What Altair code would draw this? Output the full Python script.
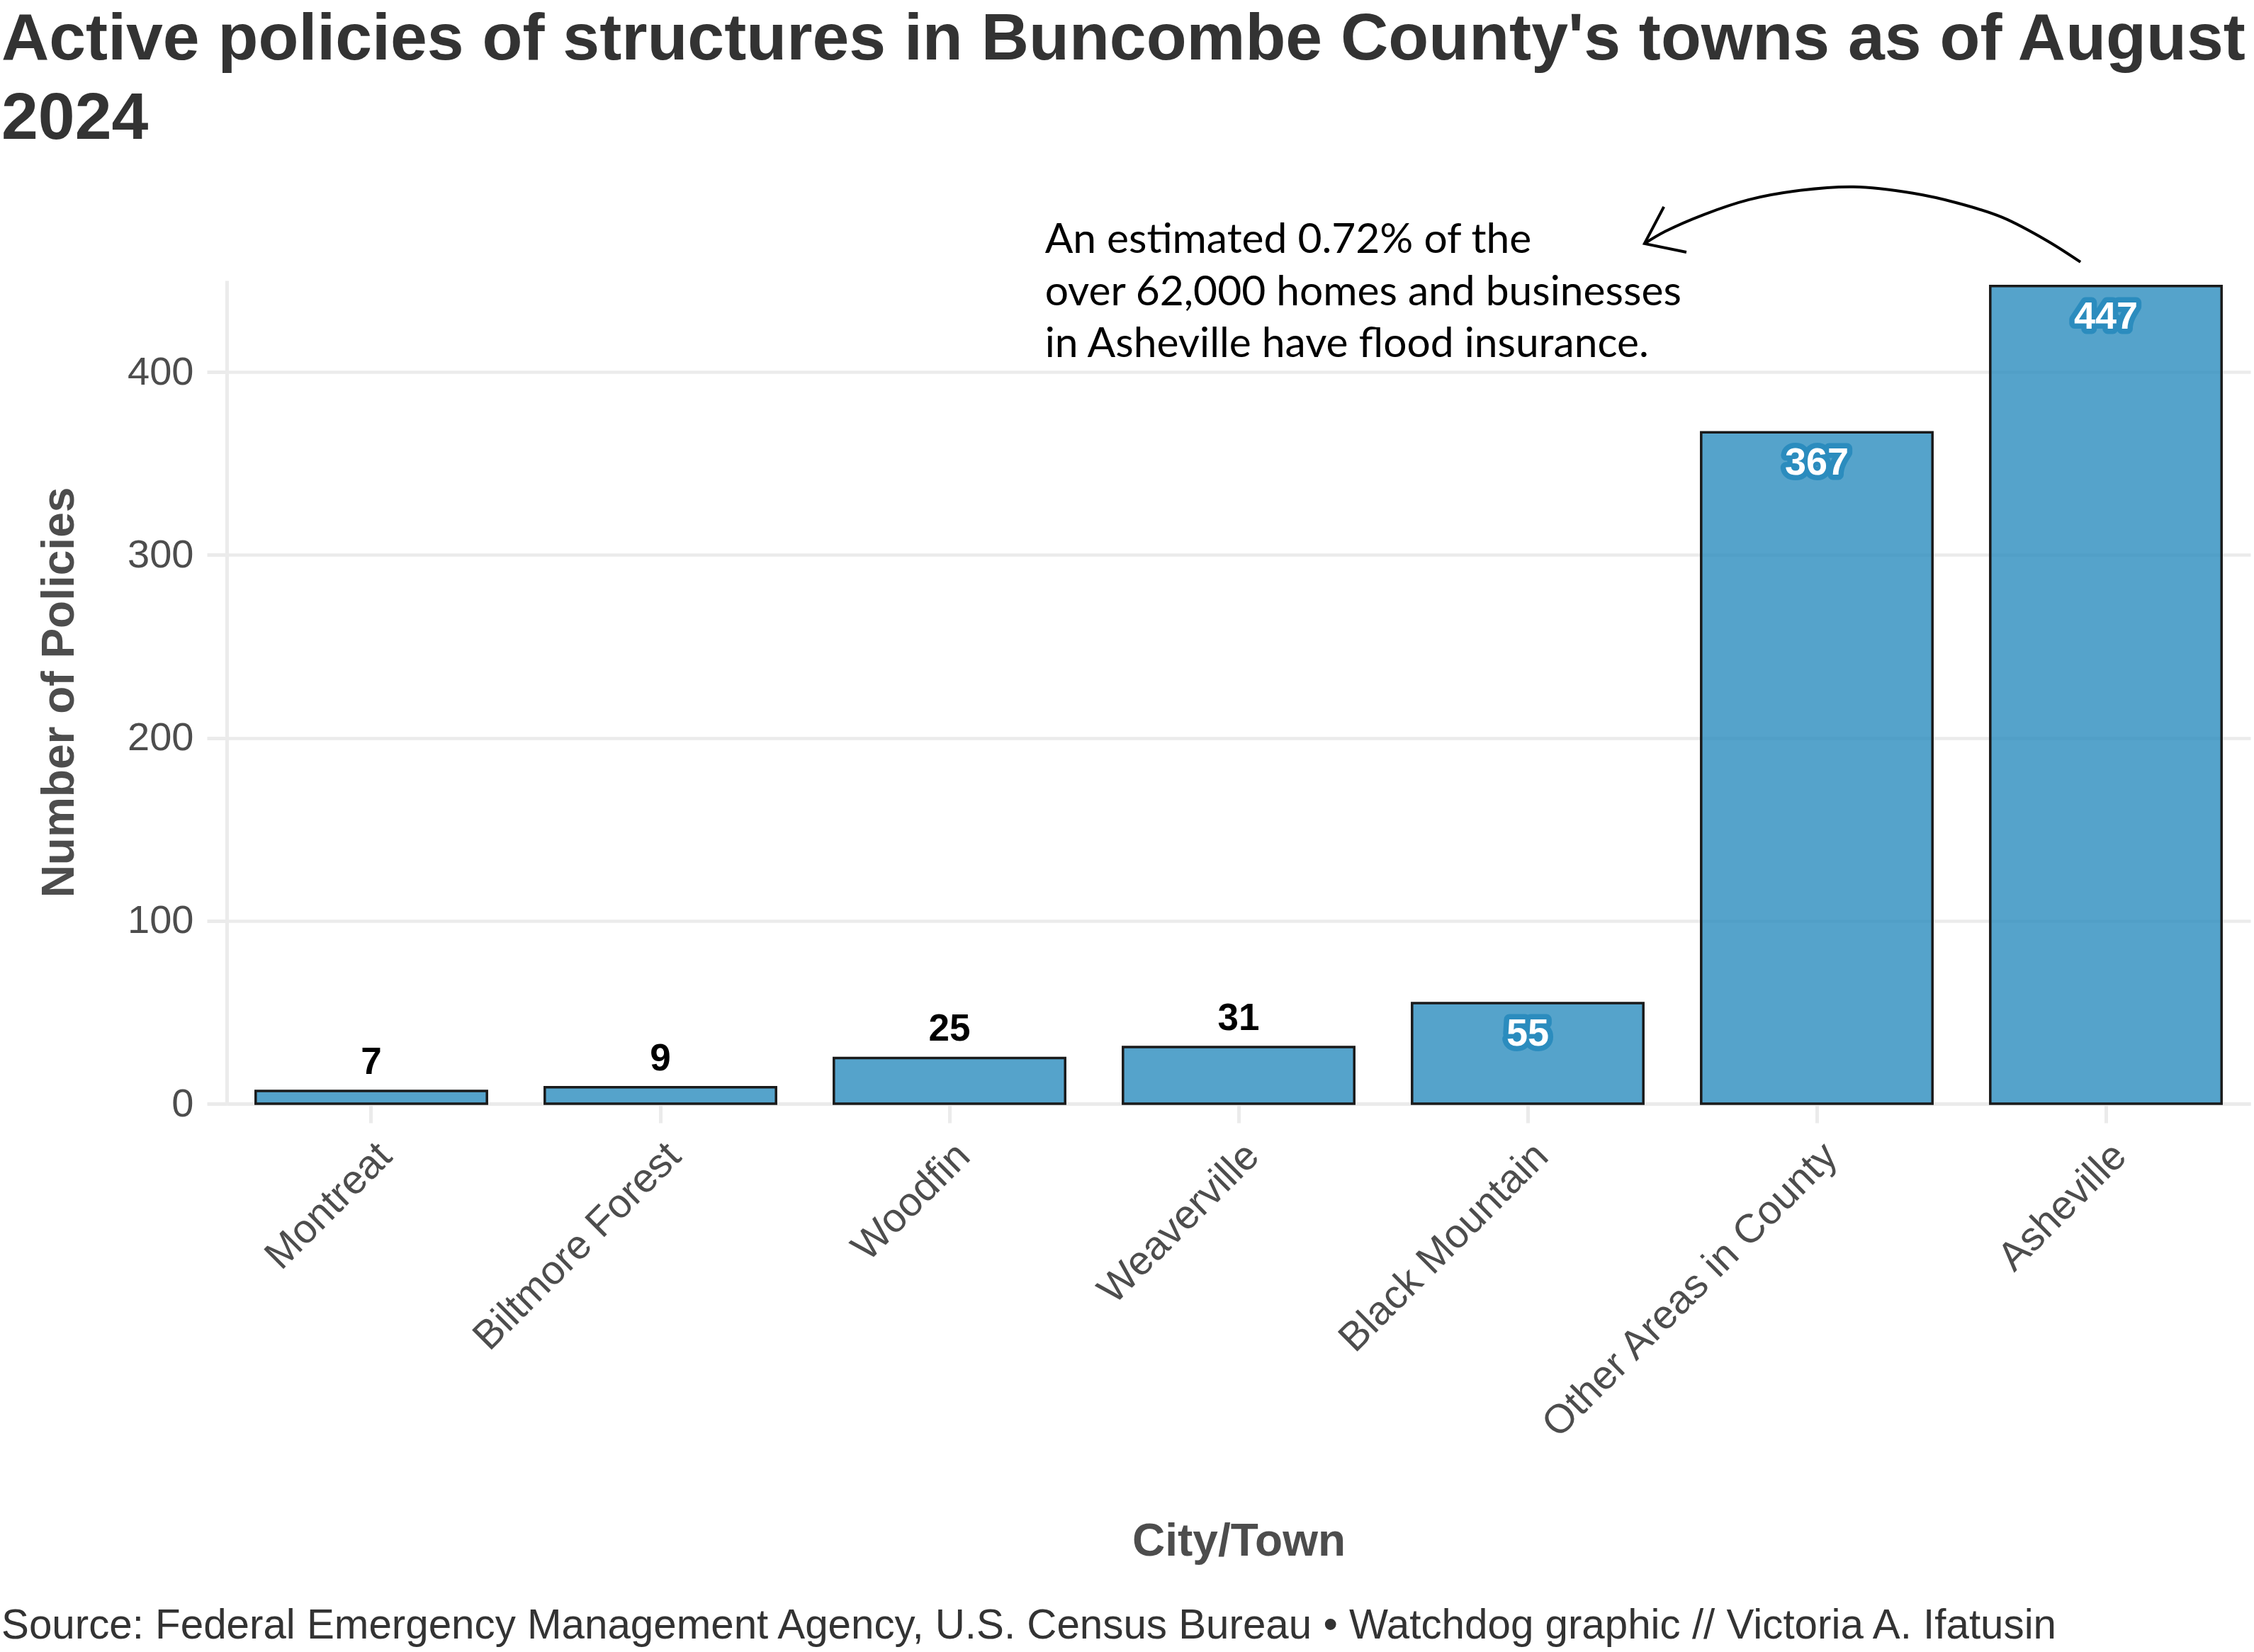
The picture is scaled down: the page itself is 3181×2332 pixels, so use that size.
import altair as alt
import pandas as pd

# ---------------- data ----------------
towns = ["Montreat", "Biltmore Forest", "Woodfin", "Weaverville",
         "Black Mountain", "Other Areas in County", "Asheville"]
policies = [7, 9, 25, 31, 55, 367, 447]
y_ticks = [0, 100, 200, 300, 400]

title_lines = ["Active policies of structures in Buncombe County's towns as of August", "2024"]
note_lines = ["An estimated 0.72% of the",
              "over 62,000 homes and businesses",
              "in Asheville have flood insurance."]
source_text = ("Source: Federal Emergency Management Agency, U.S. Census Bureau "
               "\u2022 Watchdog graphic // Victoria A. Ifatusin")

# annotation anchors: x in category-index units (1 = first bar), y in policies
note_x = [3.33, 3.33, 3.33]
note_y = [465.0, 436.5, 408.0]
curve_x = [6.912, 6.797, 6.642, 6.488, 6.333, 6.127, 5.919, 5.765, 5.610, 5.475, 5.404]
curve_y = [460.1, 471.7, 484.5, 492.3, 497.7, 501.2, 498.8, 494.2, 486.1, 476.8, 470.2]
head_x = [5.471, 5.404, 5.549]
head_y = [490.3, 470.2, 465.5]

# ---------------- tables ----------------
df = pd.DataFrame({"town": towns, "policies": policies})
note_df = pd.DataFrame({"x": note_x, "y": note_y, "t": note_lines})
curve_df = pd.DataFrame({"x": curve_x, "y": curve_y, "seq": list(range(len(curve_x)))})
head_df = pd.DataFrame({"x": head_x, "y": head_y, "seq": list(range(len(head_x)))})
src_df = pd.DataFrame({"t": [source_text]})

FONT = "Liberation Sans"
GRID = "#ebebeb"
W, H = 2856, 1162

yscale = alt.Scale(domain=[0, 450], nice=False, zero=True)
xq = alt.Scale(domain=[0.5, 7.5], nice=False, zero=False)

x_enc = alt.X(
    "town:N", sort=towns,
    scale=alt.Scale(paddingInner=0.2, paddingOuter=0.1),
    axis=alt.Axis(
        title="City/Town", titleFont=FONT, titleFontSize=64, titleFontWeight="bold",
        titleColor="#4d4d4d", titleX=W / 2, titleY=637, titleBaseline="alphabetic",
        titleAlign="center",
        labelAngle=-45, labelAlign="right", labelBaseline="top", labelPadding=18,
        labelFont=FONT, labelFontSize=57, labelColor="#4d4d4d", labelLimit=0,
        labelOverlap=False, labelFlush=False,
        ticks=True, tickSize=27, tickColor=GRID, tickWidth=5,
        domain=True, domainColor=GRID, domainWidth=5, grid=False,
    ),
)
y_enc = alt.Y(
    "policies:Q", scale=yscale,
    axis=alt.Axis(
        title="Number of Policies", titleFont=FONT, titleFontSize=64, titleFontWeight="bold",
        titleColor="#4d4d4d", titleAngle=-90, titleX=-217, titleY=H / 2,
        titleBaseline="alphabetic", titleAlign="center",
        values=y_ticks, labelFont=FONT, labelFontSize=56, labelColor="#4d4d4d",
        labelPadding=19, ticks=True, tickSize=28, tickColor=GRID, tickWidth=5,
        domain=True, domainColor=GRID, domainWidth=5,
        grid=True, gridColor=GRID, gridWidth=4.5,
    ),
)

base = alt.Chart(df).encode(x=x_enc, y=y_enc)

bars = base.mark_bar(fill="#2b8cbe", fillOpacity=0.8, stroke="#1a1a1a", strokeWidth=3.5)

out_labels = base.transform_filter("datum.policies <= 50").mark_text(
    dy=-24, baseline="alphabetic", align="center", font=FONT, fontSize=53,
    fontWeight="bold", color="black"
).encode(text="policies:Q")

halo = base.transform_filter("datum.policies > 50").mark_text(
    dy=60, baseline="alphabetic", align="center", font=FONT, fontSize=54,
    fontWeight="bold", fill="#2b8cbe", stroke="#2b8cbe", strokeWidth=15,
    strokeJoin="round"
).encode(text="policies:Q")

in_labels = base.transform_filter("datum.policies > 50").mark_text(
    dy=60, baseline="alphabetic", align="center", font=FONT, fontSize=54,
    fontWeight="bold", color="white"
).encode(text="policies:Q")

main = alt.layer(bars, out_labels, halo, in_labels)

note = alt.Chart(note_df).mark_text(
    align="left", baseline="alphabetic", font="Lato", fontSize=58.7, color="black"
).encode(
    x=alt.X("x:Q", scale=xq, axis=None),
    y=alt.Y("y:Q", scale=yscale, axis=None),
    text="t:N",
)

curve = alt.Chart(curve_df).mark_line(
    color="black", strokeWidth=4, interpolate="catmull-rom"
).encode(
    x=alt.X("x:Q", scale=xq, axis=None),
    y=alt.Y("y:Q", scale=yscale, axis=None),
    order="seq:Q",
)

head = alt.Chart(head_df).mark_line(color="black", strokeWidth=4).encode(
    x=alt.X("x:Q", scale=xq, axis=None),
    y=alt.Y("y:Q", scale=yscale, axis=None),
    order="seq:Q",
)

source = alt.Chart(src_df).mark_text(
    align="left", baseline="alphabetic", font=FONT, fontSize=58.3, color="#333333"
).encode(text="t:N", x=alt.value(-318), y=alt.value(1917))

chart = alt.layer(main, note, curve, head, source).resolve_scale(
    x="independent", y="independent"
).properties(
    width=W, height=H,
    background="white",
    title=alt.Title(
        text=title_lines, anchor="start", frame="group", orient="top",
        font=FONT, fontSize=93.2, fontWeight="bold", color="#333333",
        lineHeight=112, baseline="top", dx=-318, dy=-21, offset=20,
    ),
    padding={"left": 320, "top": 396, "right": 5, "bottom": 774},
    autosize=alt.AutoSizeParams(type="none"),
).configure_view(stroke=None)

chart.save("out.html", embed_options={"renderer": "svg", "actions": False})
